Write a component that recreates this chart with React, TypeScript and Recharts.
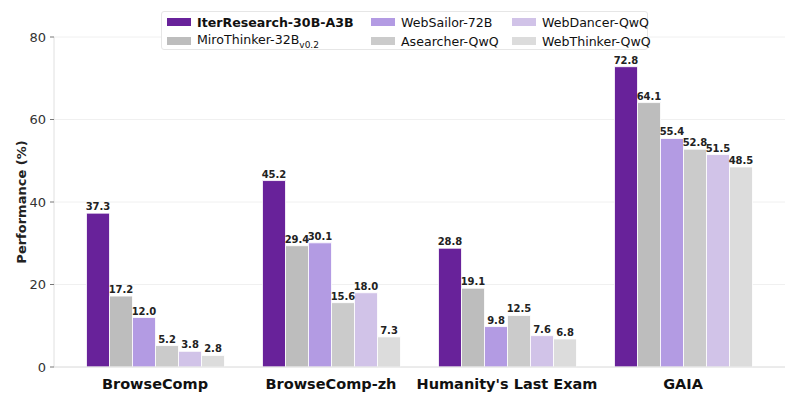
import { BarChart, Bar, XAxis, YAxis, CartesianGrid, LabelList } from "recharts";

const benchmarks = ["BrowseComp", "BrowseComp-zh", "Humanity's Last Exam", "GAIA"];

const iterResearch = [37.3, 45.2, 28.8, 72.8];
const miroThinker = [17.2, 29.4, 19.1, 64.1];
const webSailor = [12.0, 30.1, 9.8, 55.4];
const aSearcher = [5.2, 15.6, 12.5, 52.8];
const webDancer = [3.8, 18.0, 7.6, 51.5];
const webThinker = [2.8, 7.3, 6.8, 48.5];

const yTicks = [0, 20, 40, 60, 80];

const models = [
  { key: "iter", name: "IterResearch-30B-A3B", color: "#68229a", values: iterResearch },
  { key: "miro", name: "MiroThinker-32B", sub: "v0.2", color: "#bdbdbd", values: miroThinker },
  { key: "sailor", name: "WebSailor-72B", color: "#b39be3", values: webSailor },
  { key: "asearch", name: "Asearcher-QwQ", color: "#cbcbcb", values: aSearcher },
  { key: "dancer", name: "WebDancer-QwQ", color: "#d1c3e8", values: webDancer },
  { key: "thinker", name: "WebThinker-QwQ", color: "#dcdcdc", values: webThinker },
];

const FONT = "'DejaVu Sans', sans-serif";

// legend order matches the reference (column-major, 2 rows)
const legendCols = [
  ["iter", "miro"],
  ["sailor", "asearch"],
  ["dancer", "thinker"],
];
const legendColX = [5, 209, 350];

export default function App() {
  const data = benchmarks.map((b, i) => {
    const row: Record<string, any> = { name: b };
    models.forEach((m) => (row[m.key] = m.values[i]));
    return row;
  });

  return (
    <div style={{ position: "absolute", left: 0, top: 0, width: 800, height: 399, background: "#fff", fontFamily: FONT }}>
      <BarChart
        width={800}
        height={399}
        data={data}
        margin={{ top: 37, right: 15, bottom: 0, left: 0 }}
        barCategoryGap={19.5}
        barGap={0}
      >
        <CartesianGrid vertical={false} stroke="#ececec" strokeWidth={0.8} />
        <XAxis
          dataKey="name"
          height={32}
          padding={{ left: 13, right: 14 }}
          tickLine={false}
          axisLine={{ stroke: "#e0e0e0" }}
          tickMargin={6}
          tick={{ fontSize: 14.5, fontWeight: "bold", fill: "#111", fontFamily: FONT }}
          interval={0}
        />
        <YAxis
          width={54}
          domain={[0, 80]}
          ticks={yTicks}
          axisLine={{ stroke: "#e0e0e0" }}
          tickLine={{ stroke: "#777" }}
          tickSize={4}
          tickMargin={4}
          tick={{ fontSize: 13, fill: "#333", fontFamily: FONT }}
          label={{
            value: "Performance (%)",
            angle: -90,
            position: "insideLeft",
            offset: 21,
            style: { fontSize: 13, fontWeight: "bold", fill: "#222", fontFamily: FONT, textAnchor: "middle" },
          }}
        />
        {models.map((m) => (
          <Bar key={m.key} dataKey={m.key} fill={m.color} stroke="#fff" strokeWidth={0.8} isAnimationActive={false}>
            <LabelList
              dataKey={m.key}
              position="top"
              offset={3}
              formatter={(v: any) => Number(v).toFixed(1)}
              style={{ fontSize: 10, fontWeight: "bold", fill: "#222", fontFamily: FONT }}
            />
          </Bar>
        ))}
      </BarChart>

      <div
        style={{
          position: "absolute",
          left: 161,
          top: 11,
          width: 487,
          height: 39,
          border: "1px solid #e6e6e6",
          borderRadius: 3,
          background: "rgba(255,255,255,0.9)",
          boxSizing: "border-box",
          fontSize: 12.6,
          color: "#111",
        }}
      >
        {legendCols.map((col, ci) =>
          col.map((key, ri) => {
            const m = models.find((x) => x.key === key)!;
            return (
              <div
                key={key}
                style={{
                  position: "absolute",
                  left: legendColX[ci],
                  top: ri === 0 ? 2 : 21,
                  height: 16,
                  display: "flex",
                  alignItems: "center",
                  whiteSpace: "nowrap",
                }}
              >
                <span style={{ display: "inline-block", width: 24, height: 8, background: m.color, marginRight: 6 }} />
                <span style={{ fontWeight: key === "iter" ? "bold" : "normal" }}>
                  {m.name}
                  {m.sub && <sub style={{ fontSize: 9 }}>{m.sub}</sub>}
                </span>
              </div>
            );
          })
        )}
      </div>
    </div>
  );
}
